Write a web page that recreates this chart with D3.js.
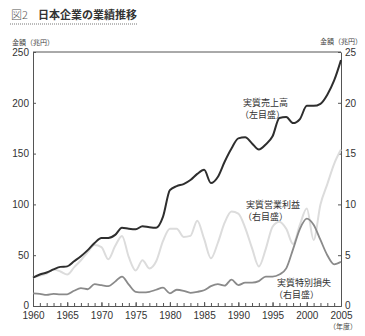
<!DOCTYPE html>
<html><head><meta charset="utf-8">
<script src="https://cdn.jsdelivr.net/npm/d3@7/dist/d3.min.js"></script>
<style>
body{margin:0;background:#fff;}
svg{display:block;font-family:"Noto Sans CJK JP","Noto Sans",sans-serif;}
</style></head>
<body>
<svg id="c" width="365" height="336"></svg>
<script>
const years = d3.range(1960, 2006);
// 実質売上高 (兆円, left axis)
const sales = [28,31,33,36,38.5,39,44,49,55,62,67,67,70,77,76,75.5,78.5,77.5,77,88,
  114,118,120,124,130,134,121,127,142,155,165,166,160,154,159,167,185,186,180,184,
  197,197,199,208,222,242];
// 実質営業利益 (兆円, right axis)
const opProfit = [2.8,3.0,3.2,3.6,3.4,3.1,3.8,4.5,5.3,6.0,5.8,4.6,5.9,6.9,4.8,3.5,4.5,3.7,4.4,6.4,
  7.6,7.6,6.8,6.9,8.4,6.6,4.7,6.2,8.2,9.3,9.1,7.7,5.7,3.9,5.6,7.8,8.3,7.6,6.1,8.0,
  9.6,6.5,10.0,12.0,14.0,15.4];
// 実質特別損失 (兆円, right axis)
const specLoss = [1.25,1.2,1.1,1.2,1.15,1.15,1.5,1.75,1.65,2.15,2.05,1.95,2.4,2.9,2.1,1.4,1.35,1.4,1.6,1.8,
  1.25,1.6,1.5,1.3,1.4,1.55,1.95,2.15,2.0,2.6,2.05,2.3,2.3,2.45,2.9,2.9,3.1,3.7,5.6,7.6,
  8.6,8.0,6.5,5.0,4.1,4.35];
const leftTicks = [0,50,100,150,200,250];
const rightTicks = [0,5,10,15,20,25];
const yearTicks = [1960,1965,1970,1975,1980,1985,1990,1995,2000,2005];

const svg = d3.select("#c");
const L = 33, R = 341, T = 52, B = 306;
const x = d3.scaleLinear().domain([1960,2005]).range([L,R]);
const yL = d3.scaleLinear().domain([0,250]).range([B,T]);
const yR = d3.scaleLinear().domain([0,25]).range([B,T]);

// title
const title = svg.append("text").attr("x",11).attr("y",19).attr("font-size",11).attr("fill","#333");
title.append("tspan").text("図2").attr("font-weight",300).attr("fill","#555");
title.append("tspan").attr("dx",10).attr("font-weight",700).text("日本企業の業績推移");
svg.append("line").attr("x1",10).attr("x2",138).attr("y1",24).attr("y2",24)
  .attr("stroke","#777").attr("stroke-width",1).attr("stroke-dasharray","1,1");

// axis titles
svg.append("text").attr("x",12).attr("y",45).attr("font-size",7).attr("fill","#444").text("金額（兆円）");
svg.append("text").attr("x",320).attr("y",44).attr("font-size",7).attr("fill","#444").text("金額（兆円）");
svg.append("text").attr("x",329).attr("y",329).attr("font-size",7).attr("fill","#444").text("（年度）");

// top frame
svg.append("line").attr("x1",L).attr("x2",R).attr("y1",T).attr("y2",T).attr("stroke","#555").attr("stroke-width",1);

function styleAxis(g){
  g.selectAll("path.domain").attr("stroke","#555").attr("stroke-width",1);
  g.selectAll(".tick line").attr("stroke","#555");
  g.selectAll(".tick text").attr("fill","#333").attr("font-family","'Liberation Sans',Arial,sans-serif");
}

const gl = svg.append("g").attr("transform",`translate(${L},0)`)
  .call(d3.axisLeft(yL).tickValues(leftTicks).tickSizeInner(-3).tickSizeOuter(0).tickPadding(4))
  .attr("font-size",10);
styleAxis(gl);
gl.selectAll(".tick text").filter(d=>d===0).attr("dy","0.2em");
const gr = svg.append("g").attr("transform",`translate(${R},0)`)
  .call(d3.axisRight(yR).tickValues(rightTicks).tickSizeInner(-3).tickSizeOuter(0).tickPadding(4))
  .attr("font-size",10);
styleAxis(gr);
gr.selectAll(".tick text").filter(d=>d===0).attr("dy","0.2em");
const gbMinor = svg.append("g").attr("transform",`translate(0,${B})`)
  .call(d3.axisBottom(x).tickValues(years).tickSizeInner(-3).tickSizeOuter(0).tickFormat(""));
styleAxis(gbMinor);
const gb = svg.append("g").attr("transform",`translate(0,${B})`)
  .call(d3.axisBottom(x).tickValues(yearTicks).tickSizeInner(-4).tickSizeOuter(0).tickPadding(6).tickFormat(d3.format("d")))
  .attr("font-size",10);
styleAxis(gb);

// lines
const mk = (ys, arr) => d3.line().x((d,i)=>x(years[i])).y(d=>ys(d)).curve(d3.curveMonotoneX)(arr);
svg.append("path").attr("d",mk(yR,opProfit)).attr("fill","none").attr("stroke","#dcdcdc").attr("stroke-width",2);
svg.append("path").attr("d",mk(yR,specLoss)).attr("fill","none").attr("stroke","#8a8a8a").attr("stroke-width",1.8);
svg.append("path").attr("d",mk(yL,sales)).attr("fill","none").attr("stroke","#2e2e2e").attr("stroke-width",2);

// series labels
function label(xp, yp, l1, l2){
  const t = svg.append("text").attr("font-size",9).attr("fill","#333");
  t.append("tspan").attr("x",xp).attr("y",yp).text(l1);
  t.append("tspan").attr("x",xp-3).attr("y",yp+12).text(l2);
}
label(243,106,"実質売上高","（左目盛）");
label(246,208,"実質営業利益","（右目盛）");
label(277,286,"実質特別損失","（右目盛）");
</script>
</body></html>
